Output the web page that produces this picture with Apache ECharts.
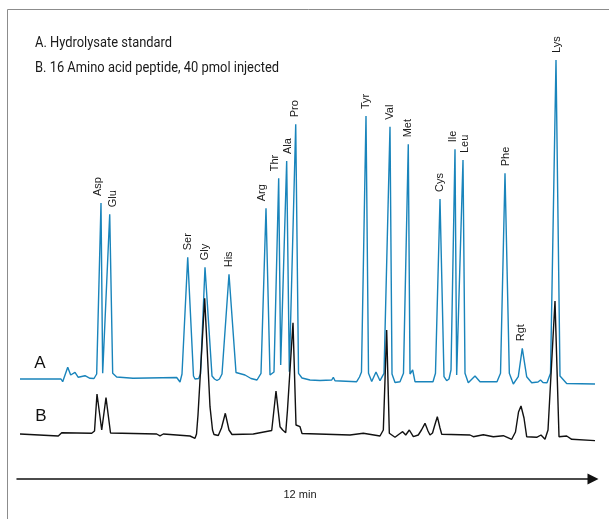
<!DOCTYPE html>
<html>
<head>
<meta charset="utf-8">
<script src="https://cdn.jsdelivr.net/npm/echarts@6/dist/echarts.min.js"></script>
<style>
  html, body { margin: 0; padding: 0; background: #fff; }
  #chart { width: 609px; height: 519px; }
</style>
</head>
<body>
<div id="chart"></div>
<script>
// Trace A: hydrolysate standard (retention time in s, detector response)
const timeA = [3.75,55,57.1,63.4,67.1,72.5,76.6,85,91.25,96.25,
  99.6,105,107.1,115.9,119.6,124.6,145,199.6,203.75,206.25,
  213.4,220.6,222.5,225,227,229.4,235,243.75,246.9,250,253.1,256.25,265,273.75,
  285,292.5,300,305,311.25,316.25,318.1,321.25,327.1,329.6,
  337.1,340.4,348.4,351.9,356.25,366.25,378.75,393.4,395.4,397.5,
  424.6,428.1,430.6,436.25,439.4,443.4,448.75,453.75,458.75,466.25,
  468.75,472.5,478.75,483.1,489.1,491.25,493.1,494.6,497.5,520,
  523.1,528.75,533.75,537.1,540,542.5,547.5,549.6,557.5,560,
  564.1,572.5,578.75,600,604.4,610,615.4,620.4,626.6,631.6,
  637.1,643.4,651.25,654.4,657.5,662.5,666.9,673.75,678.75,687.1,722.5];
const signalA = [1,1,-1.7,12.7,5,7.7,2.7,4.3,1.7,1.5,
  6,177,6.7,165.7,6.7,3,1.7,2.5,-2,6,
  122.7,4,1,0.5,1.5,6,112.7,4,1,-0.5,1,6,105.7,7.5,
  5,1.5,0,6.7,171.7,5,3,8,201.7,15,
  219,8.3,255.7,6.7,2,0,-0.5,0,2.7,-0.7,
  -1.7,3,8,264,6.7,-1.5,8,-0.7,6.7,253.3,
  6,-2.5,-1.7,6.7,235.7,6,4,10,-1.7,-1.7,
  6.7,181,3.3,-0.7,1,10,230.7,5,220,6.7,
  -2.7,4,-1.7,-1.7,6.7,206.7,6.7,-4,3.3,31.7,
  3.3,-2.7,-2,0,-2.5,-2.7,6.7,320,4,-3.5,-4];

// Trace B: 16 amino acid peptide, 40 pmol injected
const timeB = [3.75,51.6,55.9,93.4,96.9,100,105.9,111.25,116.9,118.75,
  174.6,178.75,182.9,216.25,222.5,224.4,226.25,234.6,241.25,244.4,246.25,
  251.6,255.6,260.4,265,268.75,295.4,318.4,323.75,328.75,332.1,
  333.75,335.9,338.1,345,348.75,353.75,356.25,357.9,416.25,432.9,
  453.75,457.9,462.1,465.4,472.5,477.9,482.1,485.9,490.4,495.4,
  501.6,505.6,510,513.75,516.25,519.4,521.9,525.4,528.75,530.9,
  566.25,570.4,582.9,595.4,607.9,618.4,623.1,626.9,630,633.75,
  637.1,649.6,655,660,663.75,672.5,677.5,687.1,693.4,724.6];
const signalB = [1,-1,2.3,1.7,4,41,5,37.3,2,1,
  1,-0.8,1,-1,-3.3,1,20,136.7,28.3,5,0.5,
  -0.5,7,21.7,5,0.5,1,4.5,44,8.3,5,
  6.7,2.3,25,112.3,10,8.3,1.5,0.5,0,1.7,
  -1,5,105,1.7,-2.3,1,3.3,0,5,-1.7,
  0,5,11.7,4,0,2,9,18.3,7,0.7,
  0,-1.7,0.3,-1.7,-0.7,-4.3,3,23,29,17,
  -1.7,-2.3,0,-4.3,5,134,-1.7,-1,-4.3,-5.7];

// Identified peaks on trace A
const peakNames = ['Asp','Glu','Ser','Gly','His','Arg','Thr','Ala','Pro',
  'Tyr','Val','Met','Cys','Ile','Leu','Phe','Rgt','Lys'];
const peakTimes = [105,115.9,213.4,235,265,311.25,327.1,337.1,348.4,
  436.25,466.25,489.1,528.75,547.5,557.5,610,631.6,673.75];

// Small horizontal nudges (px) so neighbouring labels don't collide
const labelNudge = [-3,3,0,0,0,-4,-4,1,-1,0,0,0,0,-2,2,1,-1,1];

const zip = (xs, ys) => xs.map((x, i) => [x, ys[i]]);

function apexValue(t) {
  let best = 0, bestD = Infinity;
  timeA.forEach((x, i) => {
    const d = Math.abs(x - t);
    if (d < bestD) { bestD = d; best = signalA[i]; }
  });
  return best;
}

const chart = echarts.init(document.getElementById('chart'), null, { renderer: 'canvas' });

const labelFont = '11px "Liberation Sans", Arial, sans-serif';
const titleFont = '15px Roboto, "Noto Sans", sans-serif';

chart.setOption({
  animation: false,
  backgroundColor: '#ffffff',
  grid: { left: 17, right: 16, top: 20, bottom: 40 },
  xAxis: {
    type: 'value', min: 0, max: 720,
    axisLine: {
      show: true, onZero: false,
      symbol: ['none', 'triangle'], symbolSize: [11, 11],
      lineStyle: { color: '#111', width: 1.5 }
    },
    axisTick: { show: false },
    axisLabel: { show: false },
    splitLine: { show: false }
  },
  yAxis: [
    { type: 'value', min: -99, max: 360, show: false, splitLine: { show: false } },
    { type: 'value', min: -44, max: 415, show: false, splitLine: { show: false } }
  ],
  series: [
    {
      name: 'A', type: 'line', yAxisIndex: 0, clip: false,
      data: zip(timeA, signalA), showSymbol: false, symbol: 'none',
      lineStyle: { color: '#1984bb', width: 1.4 }, z: 2
    },
    {
      name: 'B', type: 'line', yAxisIndex: 1, clip: false,
      data: zip(timeB, signalB), showSymbol: false, symbol: 'none',
      lineStyle: { color: '#111111', width: 1.4 }, z: 3
    },
    {
      name: 'peaks', type: 'custom', yAxisIndex: 0, clip: false, z: 4,
      data: peakTimes.map(t => [t, apexValue(t)]),
      renderItem(params, api) {
        const p = api.coord([api.value(0), api.value(1)]);
        const i = params.dataIndex;
        return {
          type: 'text',
          x: p[0] + labelNudge[i],
          y: p[1] - 7,
          rotation: Math.PI / 2,
          style: {
            text: peakNames[i], x: 0, y: 0,
            align: 'left', verticalAlign: 'middle',
            font: labelFont, fill: '#1a1a1a'
          }
        };
      }
    }
  ],
  graphic: [
    {
      type: 'rect', silent: true, z: -10,
      shape: { x: 7.5, y: 9.5, width: 640, height: 540 },
      style: { fill: 'none', stroke: '#8c8c8c', lineWidth: 1 }
    },
    {
      type: 'text', x: 35, y: 43.5, scaleX: 0.86,
      style: { text: 'A. Hydrolysate standard', font: titleFont, fill: '#1a1a1a', verticalAlign: 'middle' }
    },
    {
      type: 'text', x: 35, y: 68, scaleX: 0.86,
      style: { text: 'B. 16 Amino acid peptide, 40 pmol injected', font: titleFont, fill: '#1a1a1a', verticalAlign: 'middle' }
    },
    {
      type: 'text', x: 40, y: 363.5,
      style: { text: 'A', font: '17px "Liberation Sans", Arial, sans-serif', fill: '#111', align: 'center', verticalAlign: 'middle' }
    },
    {
      type: 'text', x: 41, y: 416,
      style: { text: 'B', font: '17px "Liberation Sans", Arial, sans-serif', fill: '#111', align: 'center', verticalAlign: 'middle' }
    },
    {
      type: 'text', x: 300, y: 495,
      style: { text: '12 min', font: labelFont, fill: '#1a1a1a', align: 'center', verticalAlign: 'middle' }
    }
  ]
});
</script>
</body>
</html>
